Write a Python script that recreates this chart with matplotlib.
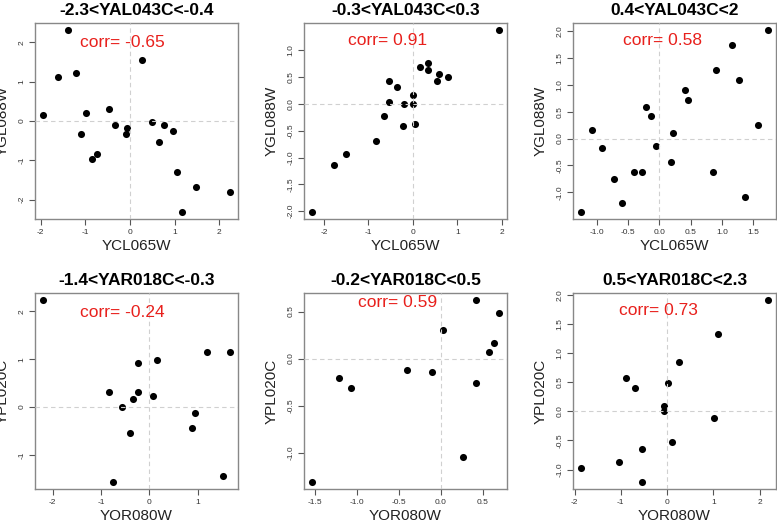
import matplotlib
matplotlib.use("Agg")
import matplotlib.pyplot as plt

plt.rcParams['font.family'] = ['Liberation Sans', 'DejaVu Sans']

# top row: YCL065W vs YGL088W, split by YAL043C
p1_x = [-1.39, 0.26, -1.62, -1.21, -1.96, -0.99, -0.46, -1.09, -0.34, -0.07, -0.10,
        0.49, 0.76, 0.97, 0.66, -0.85, -0.73, 1.05, 1.48, 2.25, 1.16]
p1_y = [2.31, 1.55, 1.13, 1.21, 0.15, 0.21, 0.31, -0.32, -0.09, -0.19, -0.32,
        -0.03, -0.09, -0.25, -0.54, -0.97, -0.85, -1.29, -1.67, -1.82, -2.31]

p2_x = [1.95, 0.17, 0.35, 0.35, 0.60, 0.80, 0.54, -0.53, -0.35, 0.0, -0.53,
        -0.20, 0.0, -0.66, -0.22, 0.06, -0.84, -1.51, -1.77, -2.28]
p2_y = [1.37, 0.68, 0.76, 0.63, 0.55, 0.50, 0.42, 0.42, 0.32, 0.16, 0.04,
        0.0, -0.01, -0.22, -0.41, -0.37, -0.70, -0.94, -1.14, -2.01]

p3_x = [1.74, 1.15, 0.91, 1.27, 0.41, 0.45, -0.21, -0.14, 1.58, -1.07, 0.22,
        -0.91, -0.06, 0.18, -0.41, -0.28, 0.85, -0.72, 1.36, -0.59, -1.26]
p3_y = [2.01, 1.73, 1.28, 1.08, 0.90, 0.71, 0.58, 0.41, 0.26, 0.15, 0.10,
        -0.18, -0.14, -0.44, -0.62, -0.62, -0.62, -0.75, -1.08, -1.20, -1.36]

# bottom row: YOR080W vs YPL020C, split by YAR018C
p4_x = [-2.21, 0.16, 1.20, 1.68, -0.23, -0.83, -0.23, -0.33, 0.07, -0.56,
        0.94, 0.88, -0.39, 1.52, -0.76]
p4_y = [2.23, 0.98, 1.14, 1.14, 0.92, 0.31, 0.31, 0.16, 0.23, 0.0,
        -0.12, -0.44, -0.54, -1.44, -1.56]

p5_x = [0.42, 0.70, 0.63, 0.58, 0.03, -0.40, -0.10, -1.21, -1.07, 0.42, 0.27, -1.54]
p5_y = [0.62, 0.48, 0.17, 0.07, 0.30, -0.12, -0.14, -0.21, -0.31, -0.26, -1.05, -1.31]

p6_x = [2.19, 1.09, 0.26, -0.89, -0.70, 0.02, -0.07, -0.07, 1.02, 0.11,
        -0.55, -1.03, -1.87, -0.55]
p6_y = [1.91, 1.33, 0.85, 0.57, 0.41, 0.49, 0.10, 0.01, -0.11, -0.52,
        -0.64, -0.87, -0.97, -1.21]

titles = ["-2.3<YAL043C<-0.4", "-0.3<YAL043C<0.3", "0.4<YAL043C<2",
          "-1.4<YAR018C<-0.3", "-0.2<YAR018C<0.5", "0.5<YAR018C<2.3"]
corr_labels = ["corr= -0.65", "corr= 0.91", "corr= 0.58",
               "corr= -0.24", "corr= 0.59", "corr= 0.73"]
x_labels = ["YCL065W"] * 3 + ["YOR080W"] * 3
y_labels = ["YGL088W"] * 3 + ["YPL020C"] * 3

x_ticks = [[-2, -1, 0, 1, 2], [-2, -1, 0, 1, 2], [-1.0, -0.5, 0.0, 0.5, 1.0, 1.5],
           [-2, -1, 0, 1], [-1.5, -1.0, -0.5, 0.0, 0.5], [-2, -1, 0, 1, 2]]
y_ticks = [[-2, -1, 0, 1, 2], [-2.0, -1.5, -1.0, -0.5, 0.0, 0.5, 1.0],
           [-1.0, -0.5, 0.0, 0.5, 1.0, 1.5, 2.0], [-1, 0, 1, 2],
           [-1.0, -0.5, 0.0, 0.5], [-1.0, -0.5, 0.0, 0.5, 1.0, 1.5, 2.0]]

xs = [p1_x, p2_x, p3_x, p4_x, p5_x, p6_x]
ys = [p1_y, p2_y, p3_y, p4_y, p5_y, p6_y]

W, H = 777, 521
fig = plt.figure(figsize=(W / 100, H / 100), dpi=100)

lefts = [35, 304, 573]
tops = [23, 293]
aw, ah = 203, 196
corr_pos = [(0.43, 0.90), (0.41, 0.91), (0.44, 0.91),
            (0.43, 0.90), (0.46, 0.95), (0.42, 0.91)]

def fmt(v, ticks):
    # R style: integers if all ticks are whole, else one decimal
    if all(float(t).is_integer() for t in ticks) and all(isinstance(t, int) for t in ticks):
        return str(v)
    return "%.1f" % v

for i in range(6):
    r, c = divmod(i, 3)
    ax = fig.add_axes([lefts[c] / W, 1 - (tops[r] + ah) / H, aw / W, ah / H])
    ax.scatter(xs[i], ys[i], s=26, color="black", zorder=2, linewidths=0)
    ax.axhline(0, color="#d0d0d0", lw=0.8, ls=(0, (4, 3)), zorder=3)
    ax.axvline(0, color="#d0d0d0", lw=0.8, ls=(0, (4, 3)), zorder=3)
    ax.margins(0.04)
    ax.set_xticks(x_ticks[i])
    ax.set_xticklabels([fmt(t, x_ticks[i]) for t in x_ticks[i]])
    ax.set_yticks(y_ticks[i])
    ax.set_yticklabels([fmt(t, y_ticks[i]) for t in y_ticks[i]], rotation=90, va="center")
    ax.tick_params(labelsize=6, length=4, width=0.8, color="#555555",
                   labelcolor="#333333", pad=3)
    for sp in ax.spines.values():
        sp.set_color("#888888")
        sp.set_linewidth(1.0)
    ax.set_title(titles[i], fontsize=12.5, fontweight="bold", pad=6)
    ax.set_xlabel(x_labels[i], fontsize=11, color="#222222", labelpad=2)
    ax.set_ylabel(y_labels[i], fontsize=11, color="#222222", labelpad=6)
    ax.text(corr_pos[i][0], corr_pos[i][1], corr_labels[i], transform=ax.transAxes,
            color="#e8201c", fontsize=12.5, ha="center", va="center")

fig.savefig("out.png", dpi=100)
